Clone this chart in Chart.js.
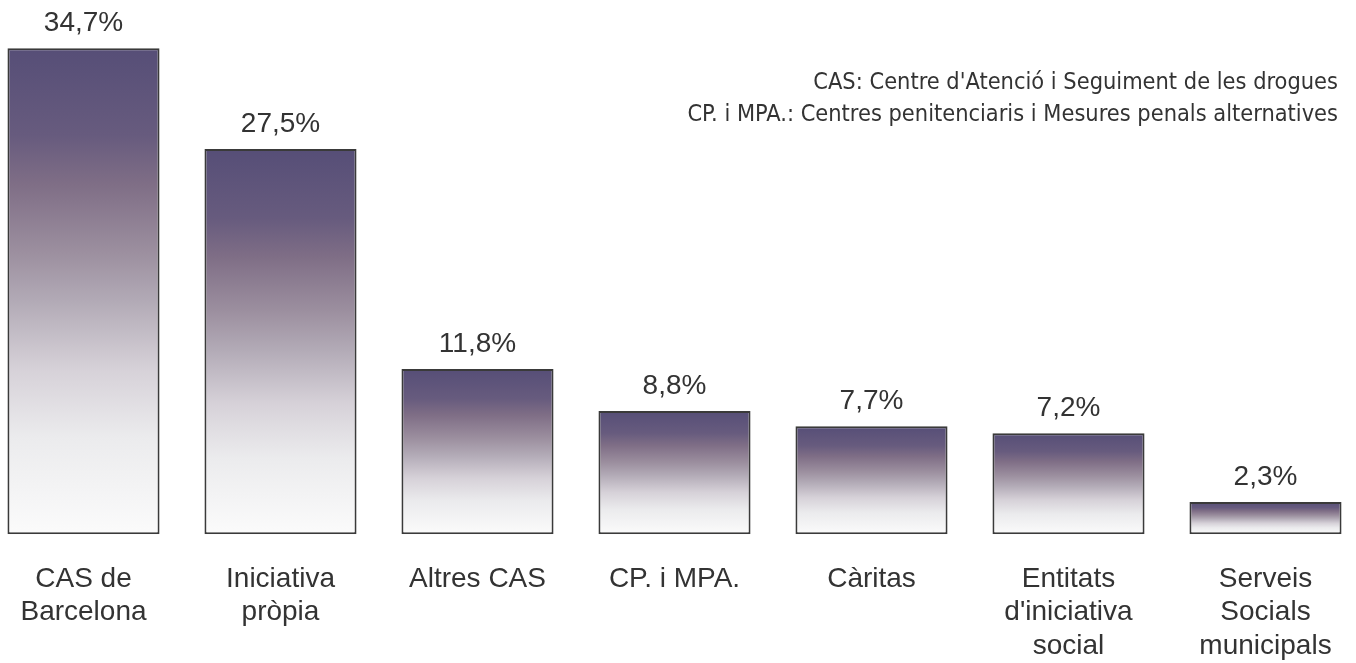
<!DOCTYPE html>
<html>
<head>
<meta charset="utf-8">
<script src="https://cdn.jsdelivr.net/npm/chart.js@4"></script>
<style>
  html, body { margin: 0; padding: 0; background: #ffffff; overflow: hidden; }
  #wrap { position: absolute; left: -15px; top: 0; width: 1379px; height: 663px; }
</style>
</head>
<body>
<div id="wrap"><canvas id="c"></canvas></div>
<script>
const categories = [
  ["CAS de", "Barcelona"],
  ["Iniciativa", "pròpia"],
  ["Altres CAS"],
  ["CP. i MPA."],
  ["Càritas"],
  ["Entitats", "d'iniciativa", "social"],
  ["Serveis", "Socials", "municipals"]
];
const values = [34.7, 27.5, 11.8, 8.8, 7.7, 7.2, 2.3];
const notes = [
  "CAS: Centre d'Atenció i Seguiment de les drogues",
  "CP. i MPA.: Centres penitenciaris i Mesures penals alternatives"
];

const TEXT = '#333333';
const FONT = '"Liberation Sans", Arial, Helvetica, sans-serif';
const NOTE_FONT = '"DejaVu Sans Condensed", "DejaVu Sans", sans-serif';

function barGradient(ctx) {
  const chart = ctx.chart;
  if (!chart.chartArea || !chart.scales.y) return '#6a5f85';
  const ys = chart.scales.y;
  const top = ys.getPixelForValue(ctx.raw);
  const bot = ys.getPixelForValue(0);
  if (!isFinite(top) || !isFinite(bot) || bot - top < 1) return '#6a5f85';
  const g = chart.ctx.createLinearGradient(0, top, 0, bot);
  g.addColorStop(0, '#564e77');
  g.addColorStop(0.18, '#675b7e');
  g.addColorStop(0.28, '#7f6e86');
  g.addColorStop(0.42, '#9c8f9f');
  g.addColorStop(0.52, '#b2aab6');
  g.addColorStop(0.66, '#d6d1d8');
  g.addColorStop(0.80, '#ebebed');
  g.addColorStop(1, '#fbfbfb');
  return g;
}

const labelsPlugin = {
  id: 'valueLabels',
  afterDatasetsDraw(chart) {
    const c = chart.ctx;
    const meta = chart.getDatasetMeta(0);
    c.save();
    c.fillStyle = TEXT;
    c.font = '28px ' + FONT;
    c.textAlign = 'center';
    c.textBaseline = 'middle';
    meta.data.forEach((bar, i) => {
      c.fillText(values[i].toFixed(1).replace('.', ',') + '%', bar.x, bar.y - 25);
    });
    c.restore();
  },
  afterDraw(chart) {
    const c = chart.ctx;
    c.save();
    c.fillStyle = TEXT;
    c.font = '21px ' + NOTE_FONT;
    const w0 = c.measureText(notes[0]).width;
    const size = 21 * 525 / w0;
    c.font = size.toFixed(2) + 'px ' + NOTE_FONT;
    c.textAlign = 'right';
    c.textBaseline = 'alphabetic';
    const right = chart.width - 26;
    notes.forEach((t, i) => c.fillText(t, right, 89 + i * 32));
    c.restore();
  }
};

new Chart(document.getElementById('c'), {
  type: 'bar',
  data: {
    labels: categories,
    datasets: [{
      data: values,
      backgroundColor: barGradient,
      borderColor: '#3a3a3a',
      borderWidth: 2,
      borderSkipped: false,
      barPercentage: 0.772,
      categoryPercentage: 1.0
    }]
  },
  options: {
    responsive: true,
    maintainAspectRatio: false,
    animation: false,
    events: [],
    layout: { padding: { top: 2, bottom: -28, left: 0, right: 0 } },
    plugins: {
      legend: { display: false },
      tooltip: { enabled: false },
      title: { display: false }
    },
    scales: {
      x: {
        grid: { display: false, drawTicks: false },
        border: { display: false },
        ticks: {
          color: TEXT,
          padding: 28,
          font: { family: FONT, size: 28, lineHeight: 1.2 },
          maxRotation: 0,
          autoSkip: false
        }
      },
      y: {
        display: false,
        min: 0,
        max: 38
      }
    }
  },
  plugins: [labelsPlugin]
});
</script>
</body>
</html>
